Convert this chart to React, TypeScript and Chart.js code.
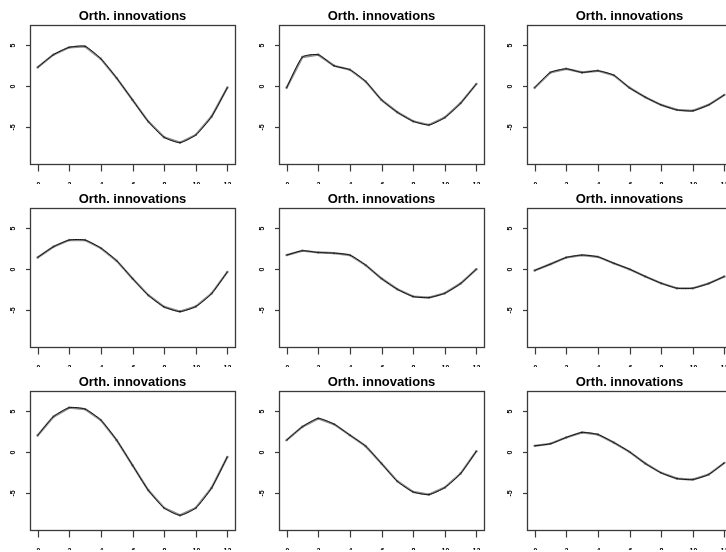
import React, { useEffect, useRef } from "react";
import { Chart, registerables } from "chart.js";

Chart.register(...registerables);

const steps = [0, 1, 2, 3, 4, 5, 6, 7, 8, 9, 10, 11, 12];
const xTicks = [0, 2, 4, 6, 8, 10, 12];
const yTicks = [-5, 0, 5];
const titleText = "Orth. innovations";

const panel1 = [2.28, 3.82, 4.72, 4.84, 3.33, 0.98, -1.67, -4.31, -6.22, -6.87, -5.93, -3.7, -0.16];
const panel2 = [-0.2, 3.54, 3.82, 2.48, 2.0, 0.57, -1.67, -3.17, -4.27, -4.72, -3.82, -2.07, 0.28];
const panel3 = [-0.2, 1.67, 2.11, 1.67, 1.87, 1.34, -0.2, -1.34, -2.28, -2.89, -3.0, -2.28, -1.06];
const panel4 = [1.42, 2.72, 3.54, 3.54, 2.56, 1.02, -1.14, -3.17, -4.59, -5.16, -4.55, -2.97, -0.33];
const panel5 = [1.71, 2.24, 2.03, 1.95, 1.71, 0.49, -1.14, -2.44, -3.33, -3.46, -2.93, -1.75, 0.0];
const panel6 = [-0.16, 0.61, 1.42, 1.71, 1.5, 0.73, 0.0, -0.89, -1.71, -2.32, -2.32, -1.75, -0.89];
const panel7 = [2.03, 4.31, 5.41, 5.24, 3.9, 1.46, -1.59, -4.63, -6.79, -7.68, -6.79, -4.35, -0.57];
const panel8 = [1.46, 3.09, 4.1, 3.41, 2.07, 0.73, -1.38, -3.54, -4.84, -5.16, -4.31, -2.6, 0.12];
const panel9 = [0.77, 1.02, 1.79, 2.4, 2.15, 1.18, 0.04, -1.38, -2.52, -3.21, -3.33, -2.72, -1.3];

const panels = [panel1, panel2, panel3, panel4, panel5, panel6, panel7, panel8, panel9];

const colOffsets = [0, 249, 497];
const rowOffsets = [0, 183, 366];
const PW = 248;
const PH = 184;

const frame = {
  id: "rframe",
  afterDraw(chart: any) {
    const { ctx, chartArea: a, scales } = chart;
    const x = scales.x;
    const y = scales.y;
    ctx.save();
    ctx.strokeStyle = "#3a3a3a";
    ctx.lineWidth = 1.3;
    ctx.strokeRect(Math.round(a.left) + 0.5, Math.round(a.top) + 0.5, Math.round(a.width), Math.round(a.height));
    ctx.lineWidth = 1.2;
    ctx.fillStyle = "#000";
    ctx.font = "bold 7px 'Liberation Sans', Arial, sans-serif";
    ctx.textAlign = "center";
    ctx.textBaseline = "middle";
    for (const t of xTicks) {
      const px = Math.round(x.getPixelForValue(t)) + 0.5;
      ctx.beginPath();
      ctx.moveTo(px, Math.round(a.bottom) + 0.5);
      ctx.lineTo(px, Math.round(a.bottom) + 7.5);
      ctx.stroke();
      ctx.fillText(String(t), px, a.bottom + 21);
    }
    for (const v of yTicks) {
      const py = Math.round(y.getPixelForValue(v)) + 0.5;
      ctx.beginPath();
      ctx.moveTo(Math.round(a.left) - 4, py);
      ctx.lineTo(Math.round(a.left) + 0.5, py);
      ctx.stroke();
      ctx.save();
      ctx.translate(a.left - 17, py);
      ctx.rotate(-Math.PI / 2);
      ctx.fillText(String(v), 0, 0);
      ctx.restore();
    }
    ctx.font = "bold 13px 'Liberation Sans', Arial, sans-serif";
    ctx.fillText(titleText, (a.left + a.right) / 2, 16);
    ctx.restore();
  },
};

function Panel({ values }: { values: number[] }) {
  const ref = useRef<HTMLCanvasElement | null>(null);
  useEffect(() => {
    if (!ref.current) return;
    const pts = steps.map((s, i) => ({ x: s, y: values[i] }));
    const chart = new Chart(ref.current, {
      type: "line",
      data: {
        datasets: [
          {
            data: pts,
            borderColor: "#111",
            borderWidth: 1,
            tension: 0.2,
            pointRadius: 0,
            fill: false,
            order: 0,
          },
          {
            data: pts,
            borderColor: "rgba(128,128,128,0.9)",
            borderWidth: 2.2,
            tension: 0,
            pointRadius: 1.2,
            pointBackgroundColor: "#777",
            pointBorderWidth: 0,
            fill: false,
            order: 1,
          },
        ],
      },
      options: {
        responsive: false,
        animation: false,
        devicePixelRatio: 1,
        layout: { padding: { left: 30, top: 25, right: 13, bottom: 20 } },
        plugins: { legend: { display: false }, tooltip: { enabled: false }, title: { display: false } },
        scales: {
          x: { type: "linear", min: -0.48, max: 12.48, display: false },
          y: { type: "linear", min: -9.47, max: 7.44, display: false },
        },
      },
      plugins: [frame],
    });
    return () => chart.destroy();
  }, [values]);
  return <canvas ref={ref} width={PW} height={PH} style={{ display: "block" }} />;
}

export default function App() {
  return (
    <div style={{ position: "absolute", left: 0, top: 0, width: 726, height: 552, overflow: "hidden", background: "#fff" }}>
      {panels.map((p, i) => (
        <div
          key={i}
          style={{
            position: "absolute",
            left: colOffsets[i % 3],
            top: rowOffsets[Math.floor(i / 3)],
            width: PW,
            height: PH,
          }}
        >
          <Panel values={p} />
        </div>
      ))}
    </div>
  );
}
